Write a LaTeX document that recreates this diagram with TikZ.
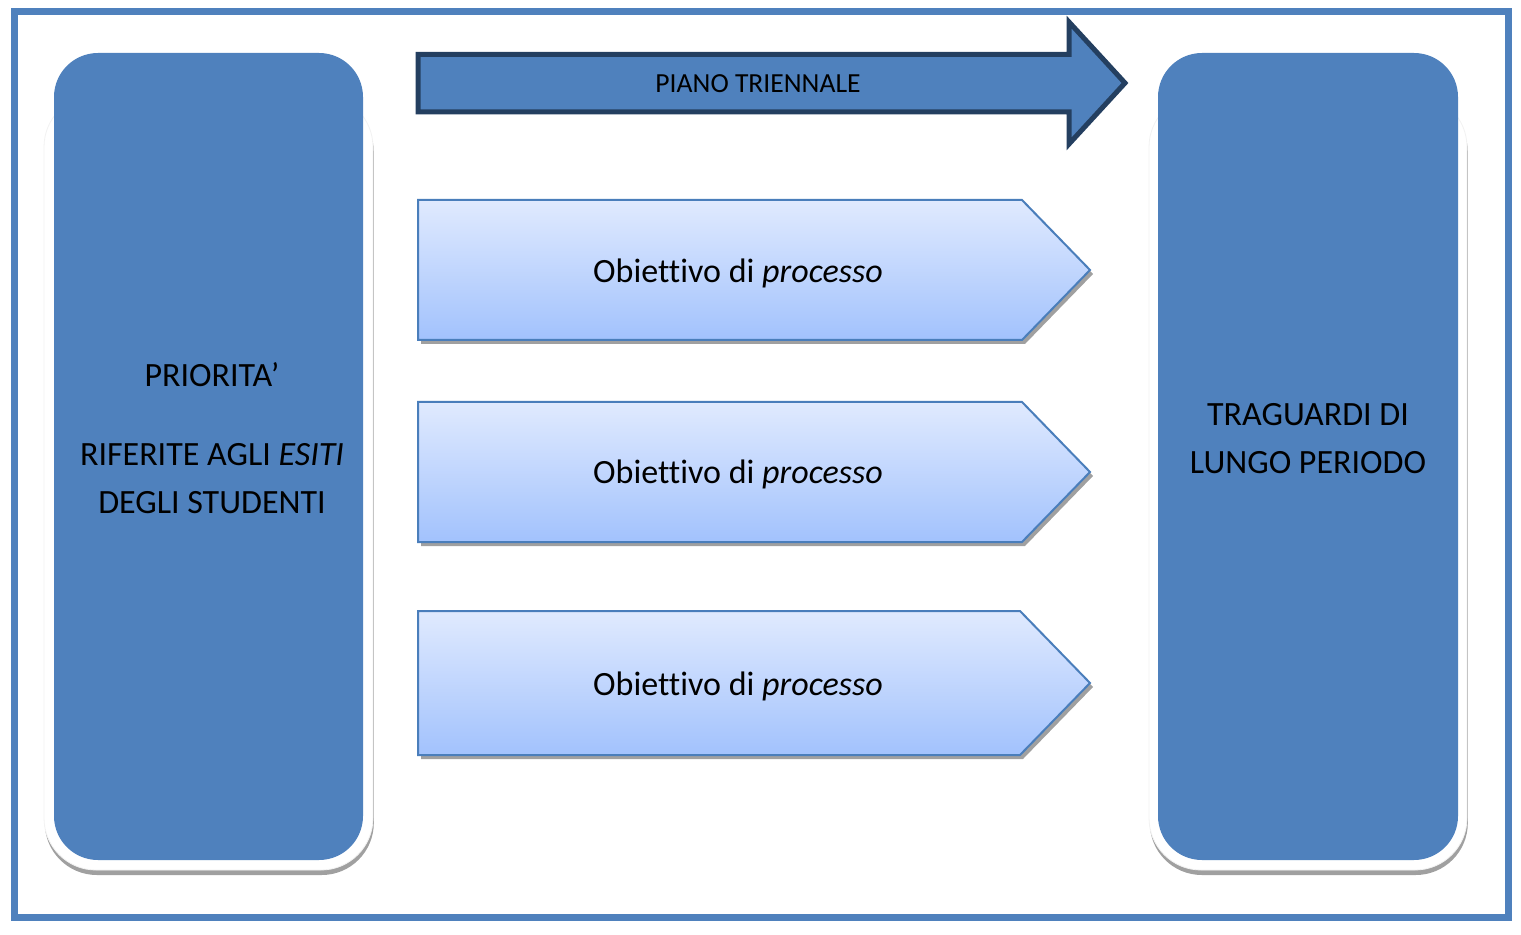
\documentclass[tikz,border=0pt]{standalone}
\usepackage{fontspec}
\setmainfont[Ligatures=NoCommon]{Carlito}
\usetikzlibrary{shadows}
\definecolor{rsBlue}{HTML}{4F81BD}
\definecolor{rsDark}{HTML}{243F60}
\definecolor{rsTop}{HTML}{E0EAFE}
\definecolor{rsBot}{HTML}{A2C2FD}
\definecolor{rsEdge}{HTML}{4A7EBB}
\definecolor{rsShade}{HTML}{A0A0A0}
\tikzset{
  rs-frame/.style={draw=rsBlue, line width=3.5pt},
  rs-base/.style={
    rectangle, rounded corners=26pt, fill=white, draw=black!5,
    drop shadow={shadow xshift=0.4pt, shadow yshift=-2.5pt,
                 fill=rsShade, opacity=1}
  },
  rs-pillar/.style={
    rectangle, rounded corners=22pt, fill=rsBlue, inner sep=0pt
  },
  rs-text/.style={align=center, font=\fontsize{17}{24}\selectfont},
  rs-plan/.style={
    fill=rsBlue, draw=rsDark, line width=2.5pt, miter limit=20
  },
  rs-chevron/.style={
    top color=rsTop, bottom color=rsBot, draw=rsEdge, line width=1pt,
    drop shadow={shadow xshift=1.5pt, shadow yshift=-2pt,
                 fill=rsShade, opacity=1}
  },
}
\begin{document}
\begin{tikzpicture}[x=0.5pt, y=-0.5pt]
  \useasboundingbox (0,0) rectangle (1521,935);
  % outer frame
  \draw[rs-frame] (14.5,11.5) rectangle (1508.5,917.5);

  % left and right pillars
  \node[rs-base, minimum width=164.5pt, minimum height=387.5pt]
    (prioBase) at (208.5,482.5) {};
  \node[rs-pillar, minimum width=154.5pt, minimum height=403.5pt]
    (prio) at (208.5,456.5) {};
  \node[rs-base, minimum width=159pt, minimum height=387.5pt]
    (tragBase) at (1308,482.5) {};
  \node[rs-pillar, minimum width=150pt, minimum height=403.5pt]
    (trag) at (1308,456.5) {};

  \node[rs-text] (prioTxt) at (212,438)
    {PRIORITA’\\[15.5pt]RIFERITE AGLI \textit{ESITI}\\DEGLI STUDENTI};
  \node[rs-text] (tragTxt) at (1308,439) {TRAGUARDI DI\\LUNGO PERIODO};

  % three-year plan arrow
  \draw[rs-plan] (418,54.5) -- (1069,54.5) -- (1069,22) -- (1125,83)
    -- (1069,144) -- (1069,112) -- (418,112) -- cycle;
  \node[font=\fontsize{13.8}{16}\selectfont] (piano) at (758,84)
    {PIANO TRIENNALE};

  % process objectives
  \path[rs-chevron] (418,200) -- (1022,200) -- (1090,270)
    -- (1022,340) -- (418,340) -- cycle;
  \path[rs-chevron] (418,402) -- (1022,402) -- (1090,472)
    -- (1022,542) -- (418,542) -- cycle;
  \path[rs-chevron] (418,611) -- (1020,611) -- (1090,683)
    -- (1020,755) -- (418,755) -- cycle;
  \node[rs-text] (obA) at (738,273) {Obiettivo di \textit{processo}};
  \node[rs-text] (obB) at (738,474) {Obiettivo di \textit{processo}};
  \node[rs-text] (obC) at (738,686) {Obiettivo di \textit{processo}};
\end{tikzpicture}
\end{document}
